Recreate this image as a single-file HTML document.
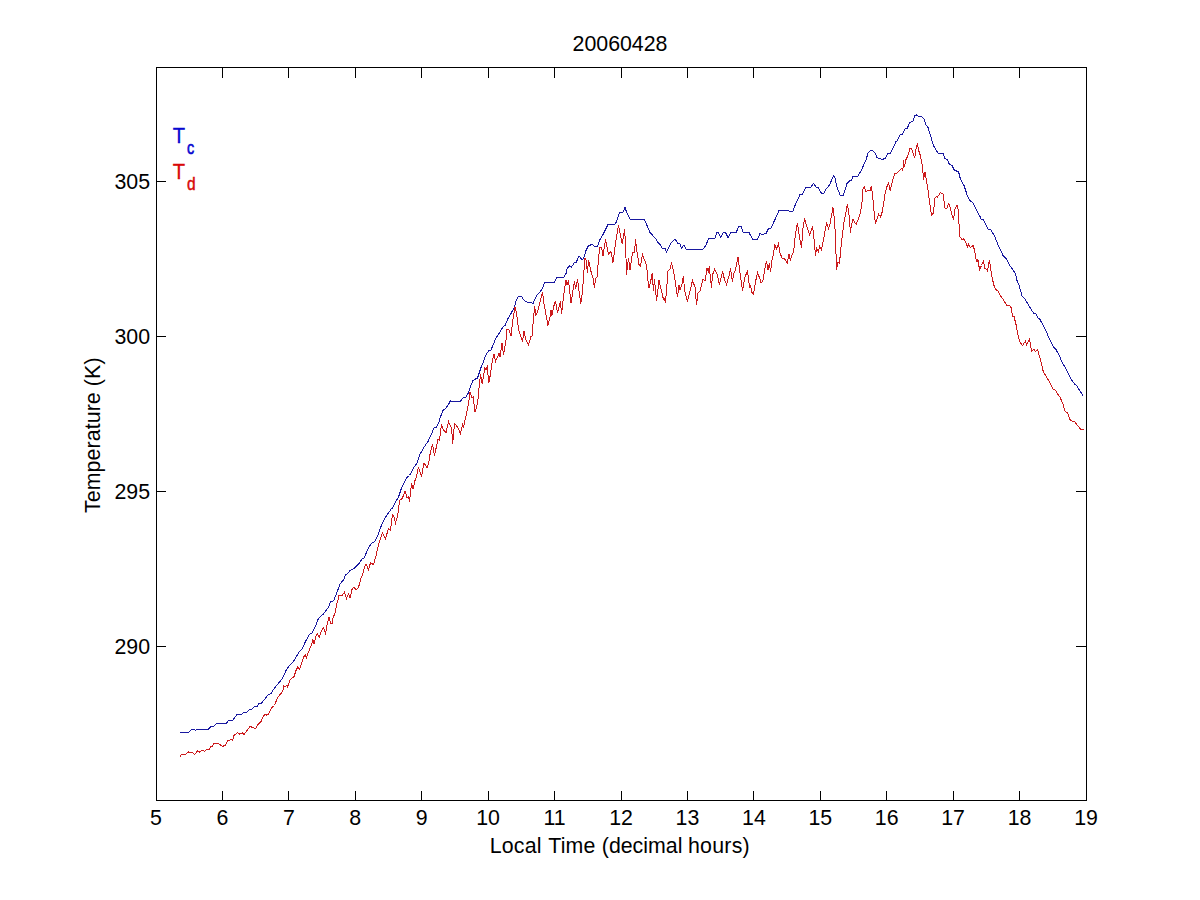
<!DOCTYPE html>
<html lang="en">
<head>
<meta charset="utf-8">
<title>20060428</title>
<style>
html,body{margin:0;padding:0;background:#fff;}
body{width:1200px;height:900px;overflow:hidden;}
svg{display:block;position:absolute;left:0;top:0;}
text{font-family:"Liberation Sans",sans-serif;font-size:21.33px;fill:#000;}
.ax{stroke:#000;stroke-width:1;fill:none;shape-rendering:crispEdges;}
.c{fill:none;stroke-width:1;stroke-linejoin:miter;stroke-linecap:butt;shape-rendering:crispEdges;}
</style>
</head>
<body>
<svg width="1200" height="900" viewBox="0 0 1200 900">
<rect x="0" y="0" width="1200" height="900" fill="#ffffff"/>
<path class="c" stroke="#1818a0" d="M180.0,732.5 L188.5,732.5 L191.5,729.5 L194.0,729.3 L195.8,730.3 L197.0,729.5 L208.5,729.3 L210.5,726.8 L213.5,726.2 L216.5,723.5 L226.5,723.3 L228.5,720.5 L232.8,720.0 L237.0,714.5 L241.5,714.3 L243.5,712.5 L246.5,712.2 L250.0,709.2 L252.0,709.0 L254.5,706.5 L257.5,706.0 L259.0,703.5 L261.5,703.0 L268.5,694.5 L271.5,693.5 L273.0,690.0 L275.0,687.5 L279.5,682.0 L282.5,678.5 L286.0,670.5 L289.0,666.0 L293.0,662.0 L299.5,651.5 L302.0,649.0 L306.0,640.5 L309.5,634.5 L312.0,632.8 L315.5,626.0 L318.0,619.5 L321.0,616.0 L323.0,614.5 L328.5,607.0 L330.5,602.0 L332.5,601.2 L334.0,600.0 L337.5,591.0 L340.0,584.0 L343.5,580.0 L345.5,575.0 L348.0,573.0 L350.0,570.5 L354.5,568.0 L359.0,563.5 L362.0,559.0 L364.0,558.0 L369.0,547.0 L372.0,543.0 L374.5,541.8 L378.5,534.0 L380.5,527.5 L385.0,518.0 L388.0,513.5 L390.5,510.0 L391.5,509.5 L395.0,503.0 L398.5,497.0 L401.5,488.0 L407.0,477.5 L409.5,475.5 L413.5,468.0 L417.0,463.0 L420.0,454.0 L421.0,452.5 L424.5,446.5 L428.0,441.5 L431.0,435.0 L434.0,428.0 L436.5,427.0 L438.5,423.0 L439.7,420.0 L440.0,418.0 L443.0,410.5 L446.0,408.0 L449.0,403.5 L450.5,400.5 L452.0,401.5 L460.5,401.2 L463.0,398.0 L466.0,397.0 L468.5,392.5 L470.5,386.5 L473.0,380.5 L474.5,379.5 L477.5,378.0 L479.5,372.0 L481.0,367.5 L483.5,361.5 L485.5,355.5 L489.0,350.5 L491.0,350.0 L493.5,344.0 L495.0,340.0 L495.5,339.0 L499.0,333.5 L503.0,327.0 L505.0,325.5 L507.5,319.5 L511.0,313.5 L514.5,307.0 L516.0,301.0 L518.5,296.5 L521.5,296.5 L523.5,299.5 L526.5,302.0 L530.5,302.2 L533.0,303.5 L534.5,299.5 L537.5,294.5 L540.5,291.5 L543.0,287.0 L544.5,283.0 L547.0,282.5 L554.5,282.2 L556.5,278.0 L564.0,277.0 L566.0,273.5 L566.8,270.0 L567.5,268.0 L569.5,266.0 L571.5,267.0 L574.5,262.5 L576.5,262.0 L578.5,256.5 L580.0,257.0 L582.0,260.0 L583.5,258.5 L586.0,250.5 L588.5,245.5 L590.5,245.0 L592.0,244.0 L594.5,246.5 L597.5,246.2 L600.0,239.5 L603.0,234.5 L608.0,224.5 L615.5,224.0 L619.5,212.5 L623.0,212.0 L625.0,207.5 L626.5,212.0 L630.0,219.0 L636.0,219.0 L644.5,219.5 L650.0,232.5 L656.0,239.0 L657.5,242.5 L659.5,243.5 L662.0,248.0 L665.0,248.5 L666.5,252.0 L668.5,248.0 L671.0,243.0 L675.0,239.0 L678.0,243.5 L680.0,244.0 L681.5,248.0 L684.0,245.0 L686.0,249.0 L703.0,249.0 L705.5,246.0 L708.5,239.0 L715.0,238.0 L717.0,232.5 L718.5,232.5 L720.5,237.5 L723.0,233.0 L725.5,232.5 L728.0,237.5 L731.0,232.5 L736.5,232.0 L738.5,226.5 L741.0,226.5 L743.0,232.0 L749.0,232.5 L752.5,239.0 L757.5,239.0 L760.0,233.5 L762.0,234.5 L766.0,233.5 L768.5,228.5 L771.0,228.0 L775.0,219.5 L779.0,210.5 L788.0,210.3 L790.0,211.5 L793.0,211.0 L795.0,205.5 L800.0,194.5 L802.0,195.0 L806.0,187.5 L811.0,187.0 L813.5,183.5 L816.0,187.0 L818.5,188.0 L821.5,193.5 L824.0,193.0 L826.5,188.5 L829.5,185.0 L833.5,175.5 L835.0,178.0 L837.0,187.0 L840.0,195.0 L843.5,195.0 L847.0,183.5 L850.0,180.5 L851.0,181.0 L853.0,176.5 L858.0,176.0 L861.0,171.0 L866.0,160.0 L868.0,153.0 L870.0,151.0 L872.5,150.5 L875.0,153.0 L877.0,157.5 L879.5,158.5 L882.5,159.5 L885.5,158.0 L887.5,154.0 L890.5,153.0 L894.0,146.0 L896.0,141.5 L897.5,140.5 L900.0,135.0 L902.5,134.0 L905.0,129.0 L907.5,128.0 L909.5,122.5 L912.0,121.5 L913.0,121.0 L914.5,116.0 L916.5,115.0 L919.0,117.0 L921.5,116.5 L924.0,119.0 L925.5,124.0 L928.0,127.5 L930.5,135.5 L933.5,145.5 L936.0,150.0 L938.0,153.0 L943.0,153.5 L945.0,158.5 L947.5,160.0 L949.5,164.5 L952.0,165.5 L954.5,170.5 L958.5,171.5 L960.5,179.5 L964.0,185.5 L966.5,193.0 L967.0,195.0 L970.0,200.5 L973.0,203.0 L976.5,210.0 L980.0,216.5 L981.0,219.0 L983.5,220.0 L988.0,229.0 L991.0,230.0 L994.5,236.0 L998.5,246.0 L1003.5,256.5 L1005.5,257.5 L1009.5,265.0 L1015.5,273.5 L1016.8,280.0 L1019.0,285.0 L1022.0,296.0 L1025.0,299.0 L1029.0,306.0 L1033.5,313.0 L1036.0,314.0 L1038.0,318.0 L1040.0,319.5 L1043.0,325.0 L1046.0,331.0 L1049.0,338.0 L1053.5,347.0 L1056.0,349.5 L1060.5,358.0 L1061.0,360.0 L1066.0,369.0 L1071.0,379.0 L1074.5,384.0 L1076.5,385.5 L1080.0,391.0 L1083.5,396.5"/>
<path class="c" stroke="#cc1a1c" d="M180.0,756.5 L181.5,754.5 L185.0,754.5 L188.5,752.0 L192.5,752.5 L194.5,754.5 L197.5,751.0 L199.5,752.0 L203.0,750.0 L204.5,751.2 L206.5,749.5 L209.5,749.2 L211.0,746.5 L212.5,746.0 L214.0,743.5 L218.5,743.5 L222.5,746.5 L225.5,745.0 L227.5,740.8 L231.0,739.5 L232.5,740.5 L234.0,735.5 L237.5,732.8 L239.5,734.0 L242.5,732.8 L244.0,734.5 L247.5,729.8 L250.0,726.5 L253.0,727.5 L255.5,728.5 L258.0,724.5 L261.0,721.5 L262.5,717.5 L265.0,714.0 L266.5,715.0 L268.5,714.0 L271.5,708.0 L274.5,705.5 L277.5,697.5 L281.0,693.5 L283.0,690.0 L283.8,686.0 L285.5,686.8 L286.5,685.5 L287.5,687.0 L290.0,680.0 L294.0,676.5 L296.0,670.5 L297.8,667.0 L299.5,669.0 L301.4,664.2 L303.9,656.7 L305.3,654.7 L306.4,657.5 L308.9,651.1 L311.7,643.9 L312.8,639.4 L313.9,643.9 L315.8,636.7 L317.2,633.9 L319.2,637.2 L321.1,631.7 L323.6,627.5 L325.6,633.3 L327.2,624.4 L329.2,616.7 L329.6,619.4 L330.6,623.9 L332.2,623.3 L333.3,616.7 L334.4,615.0 L335.5,611.0 L337.5,601.0 L338.0,600.0 L338.5,596.0 L342.5,595.0 L344.5,592.0 L346.5,598.5 L348.5,594.0 L350.0,598.0 L352.0,589.5 L354.0,587.0 L356.0,590.0 L358.5,587.5 L361.0,578.0 L362.5,575.0 L364.5,567.0 L366.0,564.0 L368.5,569.5 L370.5,563.0 L373.5,564.5 L376.0,556.0 L378.5,544.5 L382.5,533.0 L385.5,538.5 L388.5,528.5 L390.5,530.0 L392.5,514.5 L394.0,517.0 L395.5,523.0 L397.5,516.5 L398.5,510.0 L399.5,500.5 L401.5,499.0 L402.5,498.0 L405.0,491.0 L407.0,497.5 L408.5,497.0 L409.5,501.5 L411.5,483.5 L413.0,489.0 L415.0,480.5 L416.5,477.0 L418.5,467.0 L421.5,476.5 L424.0,463.0 L427.0,467.5 L428.5,464.0 L430.5,451.5 L432.5,444.0 L434.5,455.5 L438.0,439.5 L439.5,440.0 L441.5,424.5 L443.0,429.0 L446.0,433.0 L448.5,421.5 L450.0,425.0 L451.5,427.5 L452.7,443.5 L454.5,423.5 L457.5,427.0 L460.5,433.5 L462.5,424.5 L463.5,427.5 L464.5,422.0 L467.0,411.5 L468.5,404.0 L470.0,392.0 L472.0,398.0 L473.2,397.0 L475.0,412.0 L476.5,408.0 L478.0,399.0 L479.0,388.0 L480.5,374.5 L482.2,384.0 L484.8,368.0 L486.0,369.5 L487.2,367.0 L488.8,383.0 L490.5,374.0 L492.5,360.0 L494.0,354.5 L495.5,361.5 L499.0,353.5 L500.0,357.0 L502.0,343.0 L503.5,355.0 L505.0,346.0 L506.0,340.0 L507.0,329.5 L509.0,330.0 L511.0,336.0 L513.0,319.0 L515.0,307.0 L516.5,313.0 L518.5,329.0 L520.0,334.0 L522.5,341.5 L524.0,331.0 L525.5,339.0 L528.5,344.5 L531.0,336.5 L532.0,336.0 L534.0,313.0 L534.8,306.0 L535.5,315.0 L537.0,313.5 L540.0,302.0 L542.5,292.5 L544.0,304.0 L548.0,325.5 L550.0,317.0 L551.0,310.5 L552.0,315.5 L554.0,305.5 L555.5,301.0 L557.5,313.0 L560.5,301.5 L561.5,314.0 L564.5,289.0 L566.0,280.5 L567.0,285.0 L568.5,280.5 L571.0,303.0 L574.5,281.0 L575.5,289.0 L577.5,279.5 L580.8,304.0 L582.5,292.0 L584.0,270.0 L585.0,258.5 L586.0,260.0 L587.5,273.0 L588.5,260.0 L591.0,271.5 L593.0,278.0 L594.5,288.0 L595.5,279.0 L597.0,277.0 L598.5,260.0 L599.5,247.5 L601.5,247.5 L603.0,256.0 L605.5,239.5 L608.5,254.0 L611.0,251.5 L613.0,262.5 L615.5,243.0 L618.5,225.5 L620.5,235.0 L622.2,244.0 L624.5,229.5 L625.5,242.0 L626.5,274.5 L628.5,258.0 L630.0,270.0 L632.5,253.0 L634.5,252.5 L635.5,239.5 L637.0,252.0 L639.0,264.5 L640.5,266.0 L642.5,254.5 L646.0,264.0 L647.0,270.0 L648.0,281.0 L649.0,288.0 L650.5,282.0 L652.2,273.5 L653.5,291.0 L654.5,279.5 L656.5,300.5 L658.0,289.0 L659.0,280.5 L661.0,289.0 L663.5,299.5 L664.5,298.5 L665.5,302.5 L667.0,284.0 L668.0,271.0 L670.0,269.0 L671.5,262.5 L673.5,271.0 L675.5,283.0 L677.5,297.0 L679.0,285.0 L680.0,290.0 L682.0,284.0 L683.2,276.5 L685.0,292.0 L687.5,301.5 L689.0,295.0 L692.5,280.5 L695.0,287.0 L696.5,304.5 L698.0,293.0 L700.0,291.0 L703.0,279.5 L705.0,281.0 L707.0,268.5 L708.5,272.0 L709.2,266.5 L711.5,288.0 L712.5,275.0 L714.5,269.5 L717.0,274.0 L719.5,284.5 L722.5,271.5 L724.5,279.5 L726.5,284.5 L729.0,276.0 L730.5,268.0 L732.5,282.0 L733.5,274.0 L735.5,270.0 L738.0,257.0 L740.0,273.0 L742.5,290.5 L745.0,277.0 L747.5,271.0 L749.5,287.0 L750.5,285.5 L752.0,292.5 L753.5,294.0 L755.5,282.0 L757.5,272.5 L760.0,279.0 L761.0,283.0 L763.0,280.5 L765.0,268.0 L766.5,261.0 L768.0,269.5 L769.5,263.5 L770.5,272.0 L772.0,260.0 L773.5,254.0 L774.8,244.5 L776.5,249.0 L778.5,243.5 L780.0,253.0 L782.0,258.0 L784.5,258.5 L787.2,263.5 L789.0,254.5 L790.5,261.0 L791.5,255.5 L793.5,252.5 L795.5,233.5 L797.5,223.0 L799.5,237.0 L801.5,248.0 L803.0,228.0 L804.5,218.5 L807.0,227.0 L809.5,235.0 L812.5,226.5 L813.5,233.5 L815.5,255.5 L816.5,248.0 L818.5,252.0 L819.5,246.0 L821.5,249.5 L824.0,237.0 L826.5,223.0 L828.5,228.5 L830.0,224.0 L833.0,207.5 L834.5,219.5 L835.5,238.0 L836.5,269.5 L838.0,262.0 L839.5,263.0 L841.5,242.0 L844.0,222.5 L847.5,204.0 L849.0,215.0 L850.5,232.5 L851.5,224.5 L853.0,219.5 L856.2,224.5 L858.5,218.5 L860.5,213.0 L862.0,202.0 L863.0,189.0 L864.5,186.5 L865.5,191.5 L868.0,190.5 L870.0,191.0 L871.2,186.5 L872.5,194.0 L874.0,211.0 L875.5,224.0 L877.0,219.0 L878.5,214.0 L880.5,217.0 L882.5,211.0 L885.0,194.0 L887.0,186.5 L888.5,183.0 L890.2,191.0 L892.0,183.0 L894.5,174.0 L897.0,173.0 L902.0,168.0 L902.8,171.0 L903.5,160.5 L904.5,166.5 L906.0,159.5 L908.0,155.5 L910.0,148.5 L911.5,148.5 L914.7,158.0 L916.2,148.0 L917.5,143.5 L918.5,150.0 L920.5,156.0 L922.5,166.0 L923.5,180.0 L925.0,172.0 L926.2,179.0 L928.0,190.0 L930.0,205.0 L931.5,215.0 L933.5,213.0 L934.8,198.0 L936.5,196.5 L937.5,197.0 L940.5,192.5 L943.0,194.0 L945.0,208.0 L947.0,208.5 L948.5,203.5 L949.5,205.0 L952.0,215.0 L953.5,220.0 L955.0,209.0 L957.0,205.5 L958.5,211.0 L959.5,236.5 L962.0,239.5 L963.5,238.5 L966.0,243.0 L967.5,247.0 L968.5,244.0 L970.5,247.5 L973.0,245.5 L974.5,250.0 L976.0,259.0 L977.0,262.0 L977.8,259.0 L979.5,269.5 L981.5,265.5 L983.3,261.0 L985.0,268.5 L986.5,269.5 L987.5,271.0 L989.3,260.5 L990.5,267.0 L991.5,274.0 L992.5,279.5 L994.5,287.5 L996.5,290.0 L998.2,291.0 L999.5,294.5 L1003.0,299.0 L1006.5,305.0 L1009.5,305.5 L1011.0,307.5 L1012.5,316.0 L1014.0,316.5 L1016.0,324.5 L1018.5,338.0 L1020.0,342.0 L1022.5,345.5 L1025.5,341.0 L1026.5,345.0 L1029.5,339.5 L1031.5,351.0 L1034.0,349.5 L1035.5,351.5 L1037.5,349.5 L1039.0,355.0 L1040.5,360.0 L1041.5,364.0 L1043.5,372.5 L1046.0,376.0 L1050.0,383.0 L1053.0,389.0 L1055.5,390.5 L1058.0,394.5 L1060.0,397.0 L1062.0,402.0 L1063.0,404.0 L1064.5,410.5 L1067.5,413.0 L1070.0,419.5 L1071.5,421.0 L1074.5,421.5 L1077.5,425.5 L1081.0,429.5 L1083.5,429.5"/>
<rect class="ax" x="156.5" y="67.5" width="930.0" height="733.0"/>
<path class="ax" d="M222.5,800v-9 M222.5,68v10 M288.5,800v-9 M288.5,68v10 M355.5,800v-9 M355.5,68v10 M421.5,800v-9 M421.5,68v10 M488.5,800v-9 M488.5,68v10 M554.5,800v-9 M554.5,68v10 M621.5,800v-9 M621.5,68v10 M687.5,800v-9 M687.5,68v10 M753.5,800v-9 M753.5,68v10 M820.5,800v-9 M820.5,68v10 M886.5,800v-9 M886.5,68v10 M953.5,800v-9 M953.5,68v10 M1019.5,800v-9 M1019.5,68v10 M157,646.5h9 M1086,646.5h-10 M157,491.5h9 M1086,491.5h-10 M157,336.5h9 M1086,336.5h-10 M157,181.5h9 M1086,181.5h-10"/>
<text x="156.0" y="825.4" text-anchor="middle">5</text>
<text x="222.4" y="825.4" text-anchor="middle">6</text>
<text x="288.9" y="825.4" text-anchor="middle">7</text>
<text x="355.3" y="825.4" text-anchor="middle">8</text>
<text x="421.7" y="825.4" text-anchor="middle">9</text>
<text x="488.1" y="825.4" text-anchor="middle">10</text>
<text x="554.6" y="825.4" text-anchor="middle">11</text>
<text x="621.0" y="825.4" text-anchor="middle">12</text>
<text x="687.4" y="825.4" text-anchor="middle">13</text>
<text x="753.9" y="825.4" text-anchor="middle">14</text>
<text x="820.3" y="825.4" text-anchor="middle">15</text>
<text x="886.7" y="825.4" text-anchor="middle">16</text>
<text x="953.1" y="825.4" text-anchor="middle">17</text>
<text x="1019.6" y="825.4" text-anchor="middle">18</text>
<text x="1086.0" y="825.4" text-anchor="middle">19</text>
<text x="150" y="653.7" text-anchor="end">290</text>
<text x="150" y="498.7" text-anchor="end">295</text>
<text x="150" y="343.7" text-anchor="end">300</text>
<text x="150" y="188.7" text-anchor="end">305</text>
<text x="620" y="50.6" text-anchor="middle">20060428</text>
<text x="619.9" y="852.5" text-anchor="middle" style="letter-spacing:0.16px">Local <tspan dx="1">Time</tspan> <tspan style="letter-spacing:0px" dx="0.1">(decimal</tspan> <tspan dx="-0.5" style="letter-spacing:0.25px">hours)</tspan></text>
<text transform="translate(100.2,435.2) rotate(-90)" text-anchor="middle" style="letter-spacing:0.1px">Temperature (K)</text>
<text transform="translate(172.8,143.4) scale(0.92,1)" style="fill:#0808d0;stroke:#0808d0;stroke-width:0.3px;font-size:22px">T</text>
<text transform="translate(186.9,153.8) scale(0.78,1)" style="fill:#0808d0;stroke:#0808d0;stroke-width:0.6px;font-size:18.4px">c</text>
<text transform="translate(172.8,179.4) scale(0.92,1)" style="fill:#d80808;stroke:#d80808;stroke-width:0.3px;font-size:22px">T</text>
<text transform="translate(186.9,189.6) scale(0.88,1)" style="fill:#d80808;stroke:#d80808;stroke-width:0.5px;font-size:17.6px">d</text>
</svg>
</body>
</html>
